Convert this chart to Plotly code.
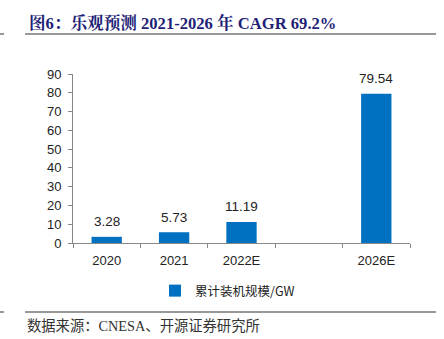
import plotly.graph_objects as go

categories = ["2020", "2021", "2022E", " ", "2026E"]
values = [3.28, 5.73, 11.19, None, 79.54]
labels = ["3.28", "5.73", "11.19", "", "79.54"]
y_ticks = [0, 10, 20, 30, 40, 50, 60, 70, 80, 90]
series_name = "累计装机规模/GW"
title_text = "图6：乐观预测 2021-2026 年 CAGR 69.2%"
source_text = "数据来源：CNESA、开源证券研究所"

W, H = 444, 339
L, R, T, B = 73, 410, 74, 243


def px(x):
    return (x - L) / (R - L)


def py(y):
    return (B - y) / (B - T)


fig = go.Figure()
fig.add_trace(go.Bar(
    x=categories, y=values, name=series_name,
    marker=dict(color="#0070C0", line=dict(width=0)),
    width=0.45, showlegend=True,
))

annotations = []
for i, (v, t) in enumerate(zip(values, labels)):
    if v is None:
        continue
    annotations.append(dict(
        x=i, y=v, xref="x", yref="y", text=t, showarrow=False,
        yshift=15, font=dict(family="Liberation Sans, Arial", size=13.5, color="#222"),
    ))

annotations.append(dict(
    x=px(27), y=py(23.5), xref="paper", yref="paper", text="<b>" + title_text + "</b>",
    showarrow=False, xanchor="left", yanchor="middle",
    font=dict(family="Liberation Serif, Noto Serif CJK SC, Noto Sans CJK SC", size=16.6, color="#1F1F78"),
))
annotations.append(dict(
    x=px(25), y=py(326), xref="paper", yref="paper", text=source_text,
    showarrow=False, xanchor="left", yanchor="middle",
    font=dict(family="Liberation Serif, Noto Sans CJK SC", size=14.3, color="#333"),
))

shapes = [
    dict(type="line", xref="paper", yref="paper", x0=px(25), x1=px(436), y0=py(34), y1=py(34),
         line=dict(color="#999", width=2)),
    dict(type="line", xref="paper", yref="paper", x0=px(0), x1=px(4), y0=py(34), y1=py(34),
         line=dict(color="#999", width=2)),
    dict(type="line", xref="paper", yref="paper", x0=px(25), x1=px(436), y0=py(312), y1=py(312),
         line=dict(color="#333", width=1)),
    dict(type="line", xref="paper", yref="paper", x0=px(0), x1=px(4), y0=py(312), y1=py(312),
         line=dict(color="#333", width=1)),
]

fig.update_layout(
    width=W, height=H,
    margin=dict(l=L, r=W - R, t=T, b=H - B, pad=0),
    paper_bgcolor="white", plot_bgcolor="white",
    font=dict(family="Liberation Sans, Arial", size=13, color="#222"),
    xaxis=dict(
        type="category", categoryorder="array", categoryarray=categories,
        range=[-0.5, len(categories) - 0.5], autorange=False,
        showline=True, linecolor="#888", linewidth=1,
        ticks="outside", tickson="boundaries", ticklen=4, tickcolor="#888",
        ticklabelstandoff=5,
        tickfont=dict(size=13, color="#222"), showgrid=False, zeroline=False,
    ),
    yaxis=dict(
        range=[0, 90], autorange=False, tickvals=y_ticks, showline=True, linecolor="#888", linewidth=1,
        ticks="outside", ticklen=4, tickcolor="#888", showgrid=False, zeroline=False,
        ticklabelstandoff=4,
        tickfont=dict(size=13, color="#222"),
    ),
    legend=dict(
        orientation="h", x=0.5 - 14 / (R - L), xanchor="center", y=py(291), yanchor="middle",
        font=dict(family="Noto Sans CJK SC", size=12.5, color="#222"),
    ),
    annotations=annotations,
    shapes=shapes,
)

fig.write_html("out.html")
